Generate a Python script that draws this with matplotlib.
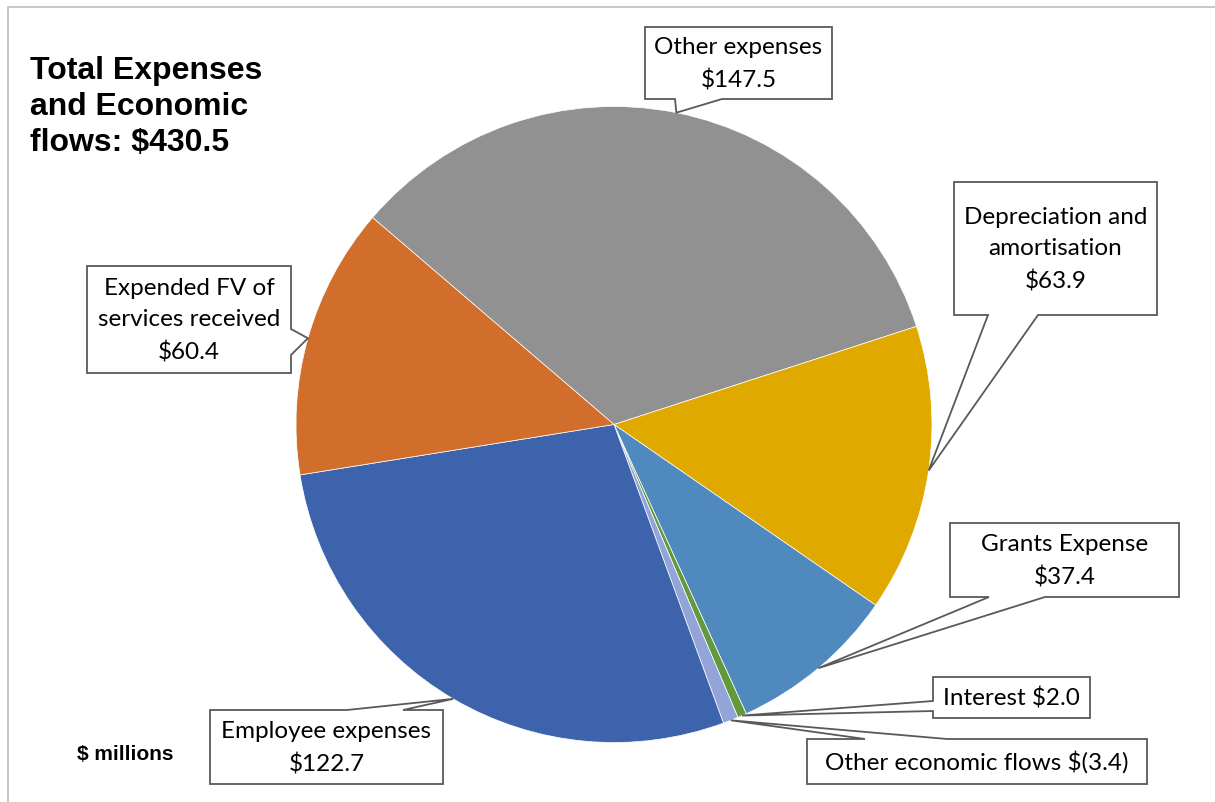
import matplotlib.pyplot as plt
from matplotlib.patches import Polygon
from matplotlib.lines import Line2D
import numpy as np

W, H = 1215, 803

names = ["Other expenses", "Depreciation and\namortisation", "Grants Expense",
         "Interest", "Other economic flows", "Employee expenses",
         "Expended FV of\nservices received"]
values = [147.5, 63.9, 37.4, 2.0, -3.4, 122.7, 60.4]
colors = ["#919191", "#E0A900", "#4F89BD", "#62993C", "#93A4D8", "#3C63AC", "#D16E2B"]
inline = [False, False, False, True, True, False, False]

# callout boxes in pixel coords (y down): box, side of the pointer, pointer base
callouts = [
    ((645, 28, 832, 100), "bottom", (675, 722)),
    ((954, 183, 1157, 316), "bottom", (988, 1038)),
    ((950, 524, 1179, 598), "bottom", (989, 1045)),
    ((933, 678, 1090, 719), "left", (702, 712)),
    ((807, 740, 1147, 785), "top", (865, 947)),
    ((210, 711, 443, 785), "top", (347, 403)),
    ((87, 267, 291, 374), "right", (330, 356)),
]

cx, cy, r = 614, 425.5, 318


def fy(y):
    return H - y


def money(v):
    return f"$({abs(v):.1f})" if v < 0 else f"${v:.1f}"


def callout_verts(box, side, base, tip):
    x0, y0, x1, y1 = box
    b0, b1 = base
    if side == "bottom":
        pts = [(x0, y0), (x1, y0), (x1, y1), (b1, y1), tip, (b0, y1), (x0, y1)]
    elif side == "top":
        pts = [(x0, y0), (b0, y0), tip, (b1, y0), (x1, y0), (x1, y1), (x0, y1)]
    elif side == "left":
        pts = [(x0, y0), (x1, y0), (x1, y1), (x0, y1), (x0, b1), tip, (x0, b0)]
    else:
        pts = [(x0, y0), (x1, y0), (x1, b0), tip, (x1, b1), (x1, y1), (x0, y1)]
    return [(x, fy(y)) for x, y in pts]


fig = plt.figure(figsize=(W / 100, H / 100), dpi=100)
ax = fig.add_axes([0, 0, 1, 1])

wedges, _ = ax.pie([abs(v) for v in values], colors=colors, startangle=139.4,
                   counterclock=False, center=(cx, fy(cy)), radius=r,
                   wedgeprops=dict(linewidth=0.5, edgecolor="white"))

for w, name, v, inl, (box, side, base) in zip(wedges, names, values, inline, callouts):
    mid = np.deg2rad((w.theta1 + w.theta2) / 2)
    tip = (cx + r * np.cos(mid), cy - r * np.sin(mid))
    poly = Polygon(callout_verts(box, side, base, tip), closed=True,
                   facecolor="white", edgecolor="#595959", linewidth=1.3,
                   joinstyle="miter", zorder=3)
    ax.add_patch(poly)
    label = name + (" " if inl else "\n") + money(v)
    ax.text((box[0] + box[2]) / 2, fy((box[1] + box[3]) / 2), label,
            ha="center", va="center", fontsize=17.5, family="Lato",
            linespacing=1.62, zorder=4)

total = sum(values)
ax.text(30, fy(107), f"Total Expenses\nand Economic\nflows: ${total:.1f}",
        ha="left", va="center", fontsize=23, fontweight="bold",
        family="Liberation Sans", linespacing=1.25)
ax.text(125, fy(755), "$ millions", ha="center", va="center", fontsize=15,
        fontweight="bold", family="Liberation Sans")

# chart area border (top and left edges fall inside the image)
ax.add_line(Line2D([8, 8, W], [0, fy(8), fy(8)], color="#BFBFBF", linewidth=1.2))

ax.set_xlim(0, W)
ax.set_ylim(0, H)
ax.set_aspect("equal")
ax.axis("off")

plt.savefig("out.png", dpi=100)
